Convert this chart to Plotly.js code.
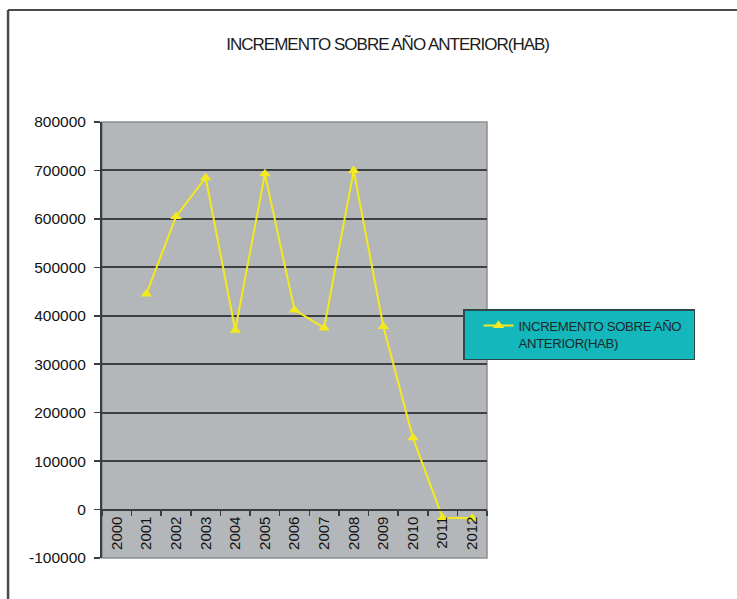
<!DOCTYPE html>
<html>
<head>
<meta charset="utf-8">
<script src="https://cdn.plot.ly/plotly-3.0.1.min.js"></script>
<style>
html,body{margin:0;padding:0;background:#fff;}
#chart{width:737px;height:599px;}
#chart .gtitle{letter-spacing:-1px;}
#chart .legendtext{letter-spacing:-0.35px;}
</style>
</head>
<body>
<div id="chart"></div>
<script>
const years = ["2000","2001","2002","2003","2004","2005","2006","2007","2008","2009","2010","2011","2012"];
const seriesName = "INCREMENTO SOBRE AÑO<br>ANTERIOR(HAB)";
const increments = [null, 445000, 605000, 685000, 370000, 693000, 412000, 375000, 700000, 378000, 148000, -17000, -18000];
const yTickVals = [-100000, 0, 100000, 200000, 300000, 400000, 500000, 600000, 700000, 800000];
const yTickText = ["-100000","0","100000","200000","300000","400000","500000","600000","700000","800000"];
const chartTitle = "INCREMENTO SOBRE AÑO ANTERIOR(HAB)";

const sans = '"Liberation Sans", Arial, sans-serif';

const trace = {
  x: years,
  y: increments,
  name: seriesName,
  type: 'scatter',
  mode: 'lines+markers',
  connectgaps: false,
  line: {color: '#F2EA1C', width: 2},
  marker: {symbol: 'triangle-up', size: 10, color: '#F2EA1C'}
};

const layout = {
  width: 737,
  height: 599,
  margin: {l: 102, r: 250, t: 122, b: 41, pad: 0},
  paper_bgcolor: '#ffffff',
  plot_bgcolor: '#B4B7BA',
  showlegend: true,
  title: {
    text: chartTitle,
    font: {family: sans, size: 17, color: '#1a1a1a'},
    xref: 'container', x: 0.526, xanchor: 'center',
    yref: 'container', y: 0.927, yanchor: 'middle'
  },
  xaxis: {
    type: 'category',
    range: [-0.5, 12.5],
    anchor: 'free',
    position: 0.1111,
    showgrid: false,
    zeroline: false,
    showline: true,
    linecolor: '#3a3d40',
    linewidth: 2,
    ticks: 'outside',
    tickson: 'boundaries',
    ticklen: 5,
    tickwidth: 1.5,
    tickcolor: '#3a3d40',
    tickangle: -90,
    tickfont: {family: sans, size: 15, color: '#111111'}
  },
  yaxis: {
    range: [-100000, 800000],
    tickvals: yTickVals,
    ticktext: yTickText,
    showgrid: true,
    gridcolor: '#3d4043',
    gridwidth: 2,
    zeroline: true,
    zerolinecolor: '#3d4043',
    zerolinewidth: 2,
    showline: true,
    linecolor: '#3a3d40',
    linewidth: 2,
    ticks: 'outside',
    ticklen: 6,
    tickwidth: 1.5,
    tickcolor: '#3a3d40',
    ticklabelstandoff: 5,
    tickfont: {family: sans, size: 15.5, color: '#111111'}
  },
  legend: {
    x: 0.9377, xanchor: 'left',
    y: 0.571, yanchor: 'top',
    bgcolor: '#14B8BC',
    bordercolor: '#2b4a4c',
    borderwidth: 1.5,
    font: {family: sans, size: 13.2, color: '#1a2a2a'},
    itemwidth: 30,
    indentation: 14,
    valign: 'top'
  },
  shapes: [
    {type: 'rect', xref: 'paper', yref: 'paper', x0: 0, x1: 1, y0: 0, y1: 1,
     line: {color: '#8c8f92', width: 1.5}, layer: 'below'},
    {type: 'line', xref: 'paper', yref: 'paper', x0: -0.244, x1: 1.92, y0: 1.257, y1: 1.257,
     line: {color: '#4a4a4a', width: 2}},
    {type: 'line', xref: 'paper', yref: 'paper', x0: -0.244, x1: -0.244, y0: 1.257, y1: -0.12,
     line: {color: '#4a4a4a', width: 2.5}}
  ]
};

Plotly.newPlot('chart', [trace], layout, {displayModeBar: false, staticPlot: true});
</script>
</body>
</html>
